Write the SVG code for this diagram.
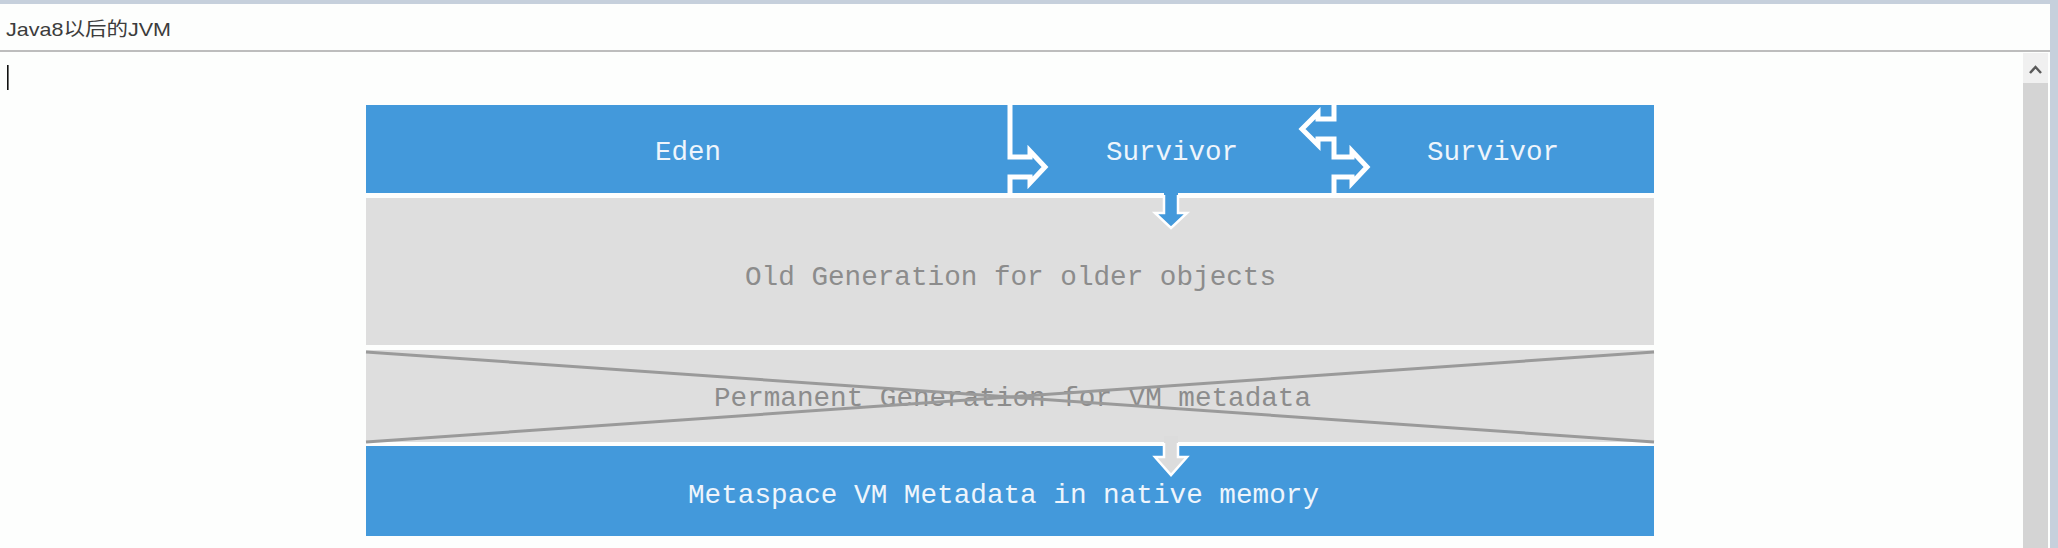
<svg xmlns="http://www.w3.org/2000/svg" width="2058" height="548" viewBox="0 0 2058 548">
<style>
.blue{fill:#4399db}
.gray{fill:#dedede}
.lbl{font-family:"Liberation Mono","DejaVu Sans Mono",monospace;font-size:28px}
.lw{fill:#eef5fc}
.lg{fill:#8c8c8c}
.sep{fill:none;stroke:#ffffff;stroke-width:5;stroke-linejoin:miter}
.cross{stroke:#9a9a9a;stroke-width:3}
.outl{fill:none;stroke:#ffffff;stroke-width:2.5;stroke-linejoin:miter}
</style>
<rect width="2058" height="548" fill="#fdfefd"/>
<g id="window">
<rect x="0" y="0" width="2058" height="4" fill="#c6d0dc"/>
<rect x="2050" y="0" width="8" height="548" fill="#c6d0dc"/>
<rect x="0" y="50" width="2050" height="2" fill="#bdbdbd"/>
<text x="6" y="36" font-family="'Liberation Sans','Noto Sans CJK SC',sans-serif" font-size="19" fill="#3c3c3c" textLength="165" lengthAdjust="spacingAndGlyphs">Java8以后的JVM</text>
<rect x="7" y="65" width="1.6" height="25" fill="#111"/>
<rect x="2023" y="53" width="25" height="30" fill="#f0f0f0"/>
<rect x="2023" y="83" width="25" height="465" fill="#d4d4d4"/>
<path d="M2030,73 L2035.5,67 L2041,73" fill="none" stroke="#5a5a5a" stroke-width="2.5"/>
</g>
<g id="eden"><rect class="blue" x="366" y="105" width="644" height="88"/><text class="lbl lw" x="655" y="160" textLength="66" lengthAdjust="spacingAndGlyphs">Eden</text></g>
<g id="survivor1"><rect class="blue" x="1010" y="105" width="324" height="88"/><text class="lbl lw" x="1106" y="160" textLength="132" lengthAdjust="spacingAndGlyphs">Survivor</text></g>
<g id="survivor2"><rect class="blue" x="1334" y="105" width="320" height="88"/><text class="lbl lw" x="1427" y="160" textLength="132" lengthAdjust="spacingAndGlyphs">Survivor</text></g>
<g id="old-gen"><rect class="gray" x="366" y="198" width="1288" height="147"/><text class="lbl lg" x="745" y="285" textLength="531" lengthAdjust="spacingAndGlyphs">Old Generation for older objects</text></g>
<g id="perm-gen"><rect class="gray" x="366" y="350" width="1288" height="92"/><text class="lbl lg" x="714" y="406" textLength="597" lengthAdjust="spacingAndGlyphs">Permanent Generation for VM metadata</text>
<line class="cross" x1="366" y1="352" x2="1654" y2="442"/><line class="cross" x1="366" y1="442" x2="1654" y2="352"/></g>
<g id="metaspace"><rect class="blue" x="366" y="446" width="1288" height="90"/><text class="lbl lw" x="688" y="503" textLength="631" lengthAdjust="spacingAndGlyphs">Metaspace VM Metadata in native memory</text></g>
<g id="connectors">
<path class="sep" d="M1010,103 V157 H1030 V151 L1045,167 L1030,183 V177 H1010 V195"/>
<path class="sep" d="M1334,103 V119 H1318 V113 L1302,129 L1318,145 V139 H1334 V157 H1352 V151 L1367,167 L1352,183 V177 H1334 V195"/>
<polygon class="blue" points="1164,190 1178,190 1178,213 1187,213 1171,228 1155,213 1164,213"/>
<path class="outl" d="M1164,195 V213 H1155 L1171,228 L1187,213 H1178 V195"/>
<polygon fill="#dcdcdc" points="1164,436 1178,436 1178,457 1187,457 1171,475 1155,457 1164,457"/>
<path class="outl" d="M1164,443 V457 H1155 L1171,475 L1187,457 H1178 V443"/>
</g>
</svg>
